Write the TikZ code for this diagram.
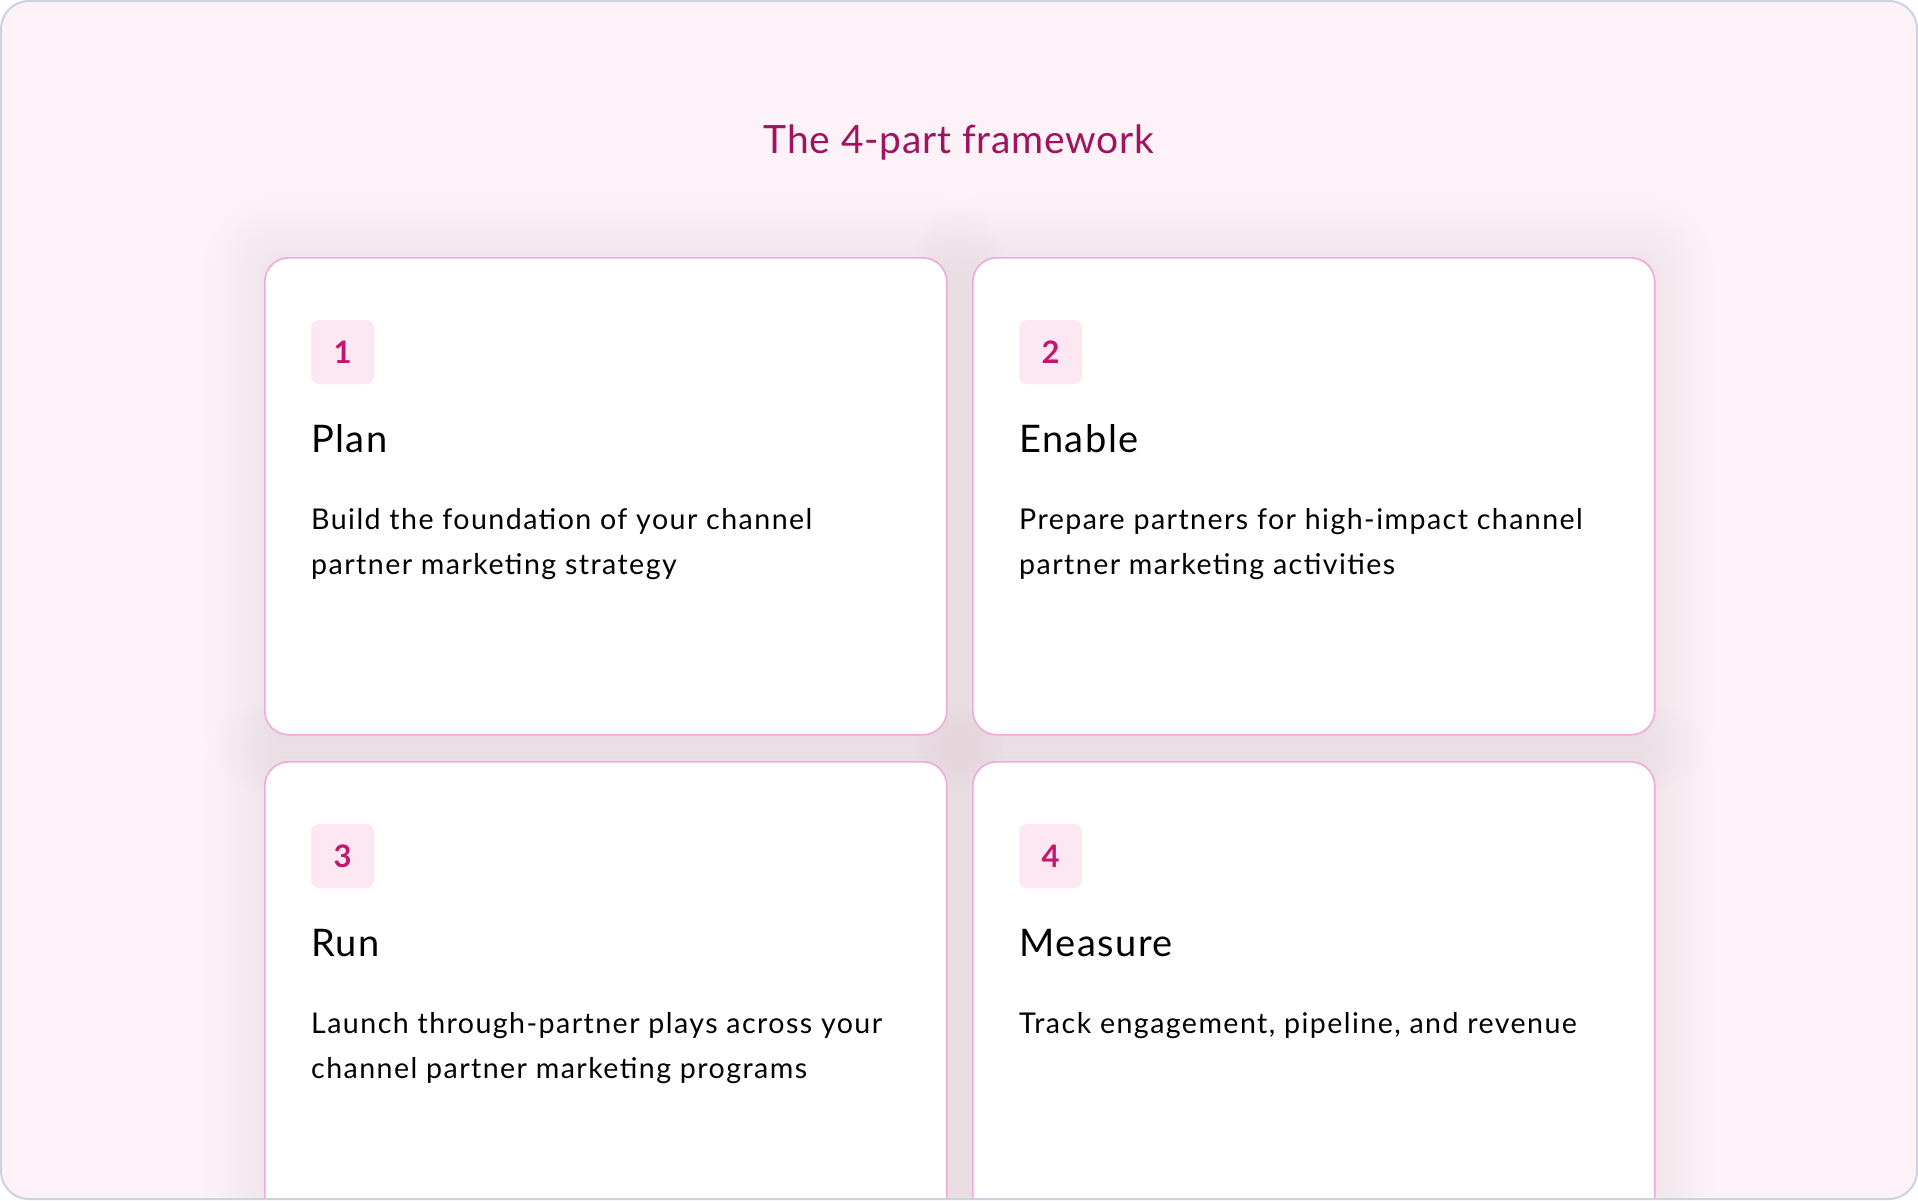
\documentclass[tikz,border=0pt]{standalone}
\usepackage{fontspec}
\setmainfont{Lato}
\newfontfamily\descfont[LetterSpace=5]{Lato}
\newfontfamily\headfont[LetterSpace=4]{Lato}
\newfontfamily\titlefont[LetterSpace=2]{Lato}
\definecolor{bgpink}{HTML}{FDF2F8}
\definecolor{framegray}{HTML}{CDD3DD}
\definecolor{titlemag}{HTML}{A0145F}
\definecolor{cardborder}{HTML}{F4A7DA}
\definecolor{badgefill}{HTML}{FCE7F3}
\definecolor{badgetext}{HTML}{C2176F}
\definecolor{glowpink}{HTML}{E6A6CE}
\tikzset{
  cardbox/.style={draw=cardborder, line width=1.6pt, fill=white, rounded corners=24pt,
    minimum width=682pt, minimum height=477pt, inner sep=0pt, anchor=north west},
  badgebox/.style={fill=badgefill, rounded corners=8pt, minimum width=63pt, minimum height=64pt,
    inner sep=0pt, text=badgetext, font=\fontsize{31}{33}\selectfont\bfseries},
  cardhead/.style={anchor=base west, inner sep=0pt, text=black, font=\headfont\fontsize{38}{42}\selectfont},
  carddesc/.style={anchor=base west, inner sep=0pt, text=black, font=\descfont\fontsize{28.6}{32}\selectfont},
  titletext/.style={anchor=base, inner sep=0pt, text=titlemag, font=\titlefont\fontsize{39}{44}\selectfont}
}
\newcommand\fwglow[2]{%
  \foreach \k in {1,...,12}{%
    \fill[glowpink, opacity=0.011, rounded corners=24pt+\k*4pt]
      (#1-\k*5, #2-\k*5) rectangle (#1+682+\k*5, #2+477+\k*5);
  }%
}
\newcommand\fwcard[7]{%
  \node[cardbox] (#1) at (#2,#3) {};
  \node[badgebox] (#1num) at (#2+78.5,#3+95) {#4};
  \node[cardhead] (#1head) at (#2+47,#3+195) {#5};
  \node[carddesc] (#1da) at (#2+47,#3+272) {#6};
  \node[carddesc] (#1db) at (#2+47,#3+317) {#7};
}
\begin{document}
\begin{tikzpicture}[x=1pt,y=-1pt]
\useasboundingbox (0,0) rectangle (1918,1200);
\fill[white] (0,0) rectangle (1918,1200);
\path[fill=bgpink, rounded corners=28pt] (1,1) rectangle (1917,1199);
\begin{scope}
  \clip[rounded corners=28pt] (1,1) rectangle (1917,1199);
  \fwglow{264}{257}
  \fwglow{972}{257}
  \fwglow{264}{761}
  \fwglow{972}{761}
  \fwcard{c1}{264}{257}{1}{Plan}{Build the foundation of your channel}{partner marketing strategy}
  \fwcard{c2}{972}{257}{2}{Enable}{Prepare partners for high-impact channel}{partner marketing activities}
  \fwcard{c3}{264}{761}{3}{Run}{Launch through-partner plays across your}{channel partner marketing programs}
  \fwcard{c4}{972}{761}{4}{Measure}{Track engagement, pipeline, and revenue}{}
\end{scope}
\draw[framegray, line width=2pt, rounded corners=28pt] (1,1) rectangle (1917,1199);
\node[titletext] (title) at (959,153) {The 4-part framework};
\end{tikzpicture}
\end{document}
